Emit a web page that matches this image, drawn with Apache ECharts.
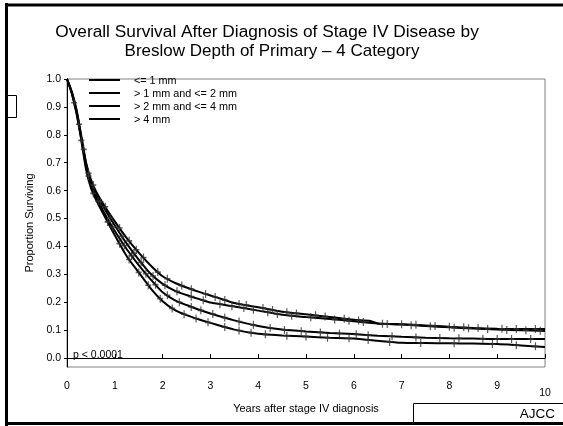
<!DOCTYPE html>
<html>
<head>
<meta charset="utf-8">
<script src="https://cdn.jsdelivr.net/npm/echarts@6/dist/echarts.min.js"></script>
<style>
html,body{margin:0;padding:0;background:#fff;}
#chart{width:563px;height:426px;}
</style>
</head>
<body>
<div id="chart"></div>
<script>
var titleLines = ['Overall Survival After Diagnosis of Stage IV Disease by', 'Breslow Depth of Primary \u2013 4 Category'];
var seriesNames = ['<= 1 mm', '> 1 mm and <= 2 mm', '> 2 mm and <= 4 mm', '> 4 mm'];
var yTickValues = [0, 0.1, 0.2, 0.3, 0.4, 0.5, 0.6, 0.7, 0.8, 0.9, 1.0];
var xTickValues = [0, 1, 2, 3, 4, 5, 6, 7, 8, 9, 10];

var curveA = [[0,1],[0.1,0.955],[0.2,0.89],[0.3,0.795],[0.4,0.70],[0.5,0.64],[0.6,0.60],[0.75,0.555],[1.0,0.49],[1.25,0.43],[1.5,0.378],[1.75,0.332],[2.0,0.293],[2.25,0.27],[2.5,0.253],[2.75,0.238],[3.0,0.224],[3.25,0.211],[3.5,0.197],[4.0,0.182],[4.5,0.166],[5.0,0.157],[5.5,0.147],[6.0,0.137],[6.35,0.133],[6.5,0.124],[7.0,0.121],[7.5,0.117],[8.0,0.112],[8.5,0.108],[9.0,0.105],[9.5,0.104],[10,0.104]];
var curveB = [[0,1],[0.1,0.952],[0.2,0.885],[0.3,0.79],[0.4,0.695],[0.5,0.63],[0.6,0.59],[0.75,0.545],[1.0,0.475],[1.25,0.41],[1.5,0.353],[1.75,0.302],[2.0,0.266],[2.25,0.242],[2.5,0.226],[2.75,0.212],[3.0,0.199],[3.5,0.185],[4.0,0.17],[4.5,0.155],[5.0,0.147],[5.5,0.14],[6.0,0.132],[6.5,0.124],[7.0,0.12],[7.5,0.115],[8.0,0.11],[8.5,0.106],[9.0,0.102],[9.5,0.1],[10,0.097]];
var curveC = [[0,1],[0.1,0.95],[0.2,0.88],[0.3,0.785],[0.4,0.685],[0.5,0.62],[0.6,0.58],[0.75,0.53],[1.0,0.455],[1.25,0.39],[1.5,0.333],[1.75,0.282],[2.0,0.236],[2.25,0.208],[2.5,0.19],[2.75,0.174],[3.0,0.16],[3.5,0.135],[4.0,0.115],[4.5,0.102],[5.0,0.095],[5.5,0.09],[6.0,0.086],[6.5,0.08],[7.0,0.076],[7.5,0.073],[8.0,0.071],[8.5,0.07],[9.0,0.068],[9.5,0.068],[10,0.068]];
var curveD = [[0,1],[0.1,0.948],[0.2,0.875],[0.3,0.78],[0.4,0.675],[0.5,0.61],[0.6,0.57],[0.75,0.52],[1.0,0.44],[1.25,0.365],[1.5,0.307],[1.75,0.25],[2.0,0.204],[2.25,0.173],[2.5,0.154],[2.75,0.139],[3.0,0.126],[3.5,0.102],[4.0,0.087],[4.5,0.081],[5.0,0.077],[5.5,0.073],[6.0,0.07],[6.5,0.062],[7.0,0.055],[7.5,0.054],[8.0,0.053],[8.5,0.052],[9.0,0.05],[9.5,0.045],[10,0.04]];

var censorA = [[0.35,0.748],[0.55,0.62],[0.8,0.542],[1.1,0.466],[1.3,0.42],[1.45,0.388],[1.6,0.36],[1.9,0.308],[2.1,0.284],[2.4,0.26],[2.6,0.247],[2.9,0.23],[3.1,0.219],[3.3,0.208],[3.6,0.194],[3.75,0.19],[4.1,0.179],[4.3,0.172],[4.6,0.164],[4.8,0.16],[5.2,0.153],[5.4,0.149],[5.8,0.141],[6.1,0.135],[6.6,0.123],[7.0,0.121],[7.3,0.119],[7.7,0.115],[8.0,0.112],[8.3,0.11],[8.6,0.108],[9.1,0.105],[9.4,0.104],[9.8,0.104]];
var censorB = [[0.25,0.838],[0.45,0.662],[0.7,0.56],[0.9,0.503],[1.15,0.436],[1.4,0.375],[1.55,0.343],[1.8,0.294],[2.05,0.261],[2.3,0.239],[2.6,0.22],[2.85,0.207],[3.2,0.193],[3.45,0.186],[3.7,0.179],[3.9,0.173],[4.2,0.164],[4.4,0.158],[4.7,0.152],[5.1,0.146],[5.6,0.138],[5.9,0.134],[6.2,0.129],[6.7,0.122],[7.2,0.118],[7.6,0.114],[8.1,0.109],[8.4,0.107],[8.8,0.104],[9.2,0.101],[9.6,0.1],[9.9,0.098]];
var censorC = [[0.15,0.915],[0.45,0.652],[0.65,0.563],[0.95,0.47],[1.2,0.403],[1.35,0.367],[1.65,0.302],[1.85,0.263],[2.1,0.225],[2.35,0.2],[2.6,0.183],[2.8,0.171],[3.05,0.158],[3.3,0.145],[3.6,0.131],[3.9,0.119],[4.25,0.108],[4.55,0.101],[4.9,0.096],[5.3,0.092],[5.7,0.088],[6.05,0.085],[6.3,0.082],[6.8,0.078],[7.3,0.074],[7.8,0.072],[8.2,0.071],[8.7,0.069],[9.0,0.068],[9.3,0.068],[9.7,0.068]];
var censorD = [[0.3,0.78],[0.55,0.59],[0.85,0.488],[1.1,0.41],[1.3,0.353],[1.5,0.307],[1.7,0.261],[1.95,0.213],[2.2,0.178],[2.45,0.157],[2.7,0.142],[2.95,0.128],[3.3,0.111],[3.6,0.099],[3.85,0.091],[4.15,0.085],[4.6,0.08],[5.0,0.077],[5.45,0.073],[5.9,0.071],[6.3,0.065],[6.75,0.058],[7.4,0.054],[8.1,0.053],[8.9,0.05],[9.4,0.046],[9.8,0.042]];

var curves = [curveA, curveB, curveC, curveD];
var censors = [censorA, censorB, censorC, censorD];

var FONT = "'Liberation Sans', Arial, sans-serif";
var plusPath = 'path://M4,0h2v10h-2zM0,4h10v2h-10z';

var series = [];
curves.forEach(function (c, i) {
  series.push({
    name: seriesNames[i], type: 'line', data: c, symbol: 'none', showSymbol: false,
    smooth: 0.25, lineStyle: { color: '#000', width: 2 }, itemStyle: { color: '#000' },
    silent: true, animation: false, z: 3
  });
});
censors.forEach(function (c) {
  series.push({
    type: 'scatter', data: c, symbol: plusPath, symbolSize: [6, 8],
    itemStyle: { color: '#333' }, silent: true, animation: false, z: 4
  });
});

var legendGraphics = [];
seriesNames.forEach(function (n, i) {
  var y = 80 + i * 13;
  legendGraphics.push({ type: 'line', shape: { x1: 89, y1: y, x2: 120, y2: y }, style: { stroke: '#000', lineWidth: 2 }, z: 10 });
  legendGraphics.push({ type: 'text', x: 134, y: y + 1, style: { text: n, font: '10.8px ' + FONT, fill: '#000', textAlign: 'left', textVerticalAlign: 'middle' }, z: 10 });
});

var chart = echarts.init(document.getElementById('chart'), null, { renderer: 'canvas' });
chart.setOption({
  backgroundColor: '#fff',
  animation: false,
  textStyle: { fontFamily: FONT },
  grid: { left: 67, top: 79, right: 18, bottom: 59, show: true, borderColor: '#808080', borderWidth: 1, containLabel: false },
  xAxis: {
    type: 'value', min: 0, max: 10, interval: 1,
    name: 'Years after stage IV diagnosis', nameLocation: 'middle', nameGap: 26,
    nameTextStyle: { fontSize: 11, color: '#000', fontFamily: FONT },
    axisLine: { lineStyle: { color: '#000', width: 1 } },
    axisTick: { inside: true, length: 4, lineStyle: { color: '#000' } },
    axisLabel: {
      fontSize: 10.5, color: '#000', margin: 14, fontFamily: FONT,
      formatter: function (v) { var i = xTickValues.indexOf(v); var s = String(xTickValues[i]); return v === 10 ? '{d|' + s + '}' : s; },
      rich: { d: { fontSize: 10.5, color: '#000', padding: [7, 0, 0, 0], fontFamily: FONT } }
    },
    splitLine: { show: false }
  },
  yAxis: {
    type: 'value', min: -0.032, max: 1.0,
    name: 'Proportion Surviving', nameLocation: 'middle', nameGap: 31,
    nameTextStyle: { fontSize: 11, color: '#000', fontFamily: FONT },
    axisLine: { show: true, lineStyle: { color: '#000', width: 1 } },
    axisTick: { show: true, inside: false, length: 3, customValues: yTickValues, lineStyle: { color: '#000' } },
    axisLabel: { fontSize: 10.5, color: '#000', margin: 6, customValues: yTickValues, fontFamily: FONT,
      formatter: function (v) { return v.toFixed(1); } },
    splitLine: { show: false }
  },
  graphic: legendGraphics.concat([
    { type: 'text', x: 267, y: 32, style: { text: titleLines[0], font: '17.3px ' + FONT, fill: '#000', textAlign: 'center', textVerticalAlign: 'middle' } },
    { type: 'text', x: 272, y: 51, style: { text: titleLines[1], font: '17px ' + FONT, fill: '#000', textAlign: 'center', textVerticalAlign: 'middle' } },
    { type: 'text', x: 73, y: 355, style: { text: 'p < 0.0001', font: '10.5px ' + FONT, fill: '#000', textAlign: 'left', textVerticalAlign: 'middle' }, z: 10 },
    { type: 'line', shape: { x1: 6.5, y1: 3, x2: 6.5, y2: 426 }, style: { stroke: '#000', lineWidth: 3 } },
    { type: 'line', shape: { x1: 5, y1: 5, x2: 563, y2: 5 }, style: { stroke: '#000', lineWidth: 3 } },
    { type: 'line', shape: { x1: 5, y1: 423.5, x2: 563, y2: 423.5 }, style: { stroke: '#000', lineWidth: 3 } },
    { type: 'rect', shape: { x: 7.5, y: 95.5, width: 9, height: 22 }, style: { stroke: '#000', fill: '#fff', lineWidth: 1 } },
    { type: 'rect', shape: { x: 413.5, y: 403.5, width: 152, height: 20 }, style: { stroke: '#000', fill: 'none', lineWidth: 1 } },
    { type: 'text', x: 555, y: 414, style: { text: 'AJCC', font: '13.5px ' + FONT, fill: '#000', textAlign: 'right', textVerticalAlign: 'middle' } }
  ]),
  series: series
});
</script>
</body>
</html>
